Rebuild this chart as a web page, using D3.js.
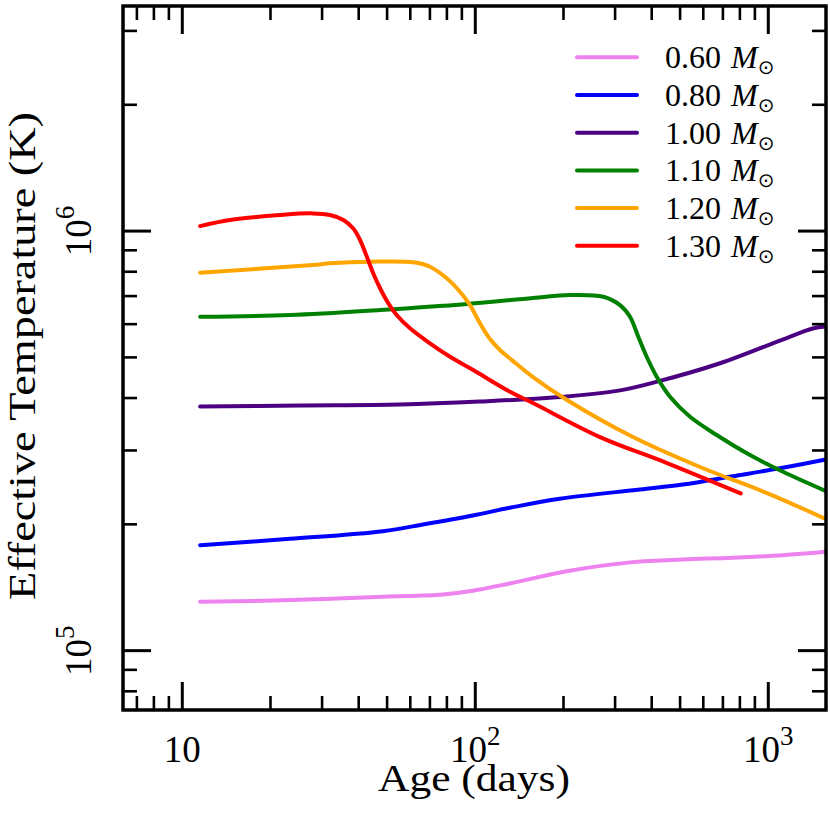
<!DOCTYPE html>
<html>
<head>
<meta charset="utf-8">
<script src="https://cdn.jsdelivr.net/npm/d3@7"></script>
<style>
  body { margin: 0; background: #fff; }
  svg text { font-family: "Liberation Serif", "DejaVu Serif", serif; fill: #000; }
</style>
</head>
<body>
<svg></svg>
<script>
const width = 830;
const height = 822;

// age in days, effective temperature in K
const m060 = [[11.55,130400],[23.4,131600],[48.6,134100],[77.8,135800],[98.5,138600],[131.7,144200],
              [206,154200],[346,162100],[513,164500],[759,166000],[1124,168400],[1576,171600]];
const m080 = [[11.55,177900],[23.4,184200],[48.6,192100],[66.5,199300],[98.5,209400],[131.7,218400],
              [195,229500],[366,241500],[513,248200],[759,259700],[1124,272000],[1576,284700]];
const m100 = [[11.55,380800],[25.3,383000],[55.5,385000],[104,391400],[206,402300],[313,416000],
              [422,437000],[687,482800],[1124,550000],[1423,584200],[1576,590600]];
const m110 = [[11.55,623200],[23.4,629100],[47.5,646600],[94.1,668300],[158,690700],[211.3,702200],
              [274.5,695600],[313,664500],[338.6,623200],[361.4,558500],[386.1,500300],[417.7,448400],
              [463.7,401800],[542.8,360000],[669.3,325600],[869.6,291700],[1127,266200],[1579,239400]];
const m120 = [[11.55,793500],[28,827800],[32.05,835400],[43.9,843000],[61.7,840100],[70.3,820000],
              [80.2,769600],[89,715000],[96.3,664500],[104.2,601000],[112.7,551300],[121.9,519200],
              [133.9,491300],[158,447700],[206.4,394600],[346.7,322000],[587,273200],[993.8,236800],
              [1579,205300]];
const m130 = [[11.55,1025000],[14.6,1060000],[21.6,1089000],[28,1099000],[32.05,1089000],[35.6,1060000],
              [38.5,1012000],[40.6,949500],[42.8,866800],[45,791000],[47.5,728700],[50.7,670800],
              [54.1,629100],[60.1,584800],[70.3,538600],[82.3,500300],[98.8,465100],[131.9,412900],
              [158,388100],[267.5,322000],[452.9,279200],[808,236400]];

const series = [m060, m080, m100, m110, m120, m130];
const masses = ["0.60", "0.80", "1.00", "1.10", "1.20", "1.30"];
const colors = ["violet", "blue", "indigo", "green", "orange", "red"];

const xMajor = [10, 100, 1000];
const xMinor = [7, 8, 9, 20, 30, 40, 50, 60, 70, 80, 90, 200, 300, 400, 500, 600, 700, 800, 900];
const yMajor = [1e5, 1e6];
const yMinor = [8e4, 9e4, 2e5, 3e5, 4e5, 5e5, 6e5, 7e5, 8e5, 9e5, 2e6, 3e6];

const plotLeft = 123, plotRight = 826, plotTop = 6, plotBottom = 710;

const svg = d3.select("svg")
                .attr("width", width)
                .attr("height", height);

const xScale = d3.scaleLog()
                .domain([6.3, 1580])
                .range([plotLeft, plotRight]);

const yScale = d3.scaleLog()
                .domain([7.2e4, 3.43e6])
                .range([plotBottom, plotTop]);

svg.append("clipPath")
    .attr("id", "plot-clip")
  .append("rect")
    .attr("x", plotLeft)
    .attr("y", plotTop)
    .attr("width", plotRight - plotLeft)
    .attr("height", plotBottom - plotTop);

const line = d3.line()
                .x(d => xScale(d[0]))
                .y(d => yScale(d[1]))
                .curve(d3.curveCatmullRom.alpha(0.5));

svg.append("g")
    .attr("clip-path", "url(#plot-clip)")
  .selectAll("path")
    .data(series)
    .enter()
    .append("path")
    .attr("d", line)
    .attr("fill", "none")
    .attr("stroke", (d, i) => colors[i])
    .attr("stroke-width", 4)
    .attr("stroke-linecap", "round");

// ticks on all four sides, pointing inward
function tickAxis(axis, transform, values, size, w) {
  const g = svg.append("g")
      .attr("transform", transform)
      .call(axis.tickValues(values).tickSize(-size).tickFormat(""));
  g.select(".domain").remove();
  g.selectAll(".tick line").attr("stroke", "#000").attr("stroke-width", w);
  return g;
}

const xBottom = tickAxis(d3.axisBottom(xScale), `translate(0,${plotBottom})`, xMajor, 28, 3);
tickAxis(d3.axisBottom(xScale), `translate(0,${plotBottom})`, xMinor, 14, 2.6);
tickAxis(d3.axisTop(xScale), `translate(0,${plotTop})`, xMajor, 28, 3);
tickAxis(d3.axisTop(xScale), `translate(0,${plotTop})`, xMinor, 14, 2.6);
const yLeft = tickAxis(d3.axisLeft(yScale), `translate(${plotLeft},0)`, yMajor, 28, 3);
tickAxis(d3.axisLeft(yScale), `translate(${plotLeft},0)`, yMinor, 14, 2.6);
tickAxis(d3.axisRight(yScale), `translate(${plotRight},0)`, yMajor, 28, 3);
tickAxis(d3.axisRight(yScale), `translate(${plotRight},0)`, yMinor, 14, 2.6);

function powerLabel(sel, d) {
  const e = Math.round(Math.log10(d));
  sel.text(null);
  sel.append("tspan").text("10");
  if (e !== 1) {
    sel.append("tspan")
        .attr("dy", -17)
        .style("font-size", "27px")
        .text(e);
  }
}

xBottom.selectAll(".tick text")
    .attr("y", 52)
    .attr("dy", 0)
    .attr("fill", "#000")
    .style("font-size", "37px")
    .style("text-anchor", "middle")
    .each(function (d) { powerLabel(d3.select(this), d); });

yLeft.selectAll(".tick text")
    .attr("x", 0)
    .attr("y", -32)
    .attr("dy", 0)
    .attr("fill", "#000")
    .attr("transform", "rotate(-90)")
    .style("font-size", "37px")
    .style("text-anchor", "middle")
    .each(function (d) { powerLabel(d3.select(this), d); });

svg.append("rect")
    .attr("x", plotLeft)
    .attr("y", plotTop)
    .attr("width", plotRight - plotLeft)
    .attr("height", plotBottom - plotTop)
    .attr("fill", "none")
    .attr("stroke", "#000")
    .attr("stroke-width", 3.5);

svg.append("text")
    .attr("x", 474)
    .attr("y", 791)
    .attr("textLength", 192)
    .attr("lengthAdjust", "spacingAndGlyphs")
    .style("font-size", "37px")
    .style("text-anchor", "middle")
    .text("Age (days)");

svg.append("text")
    .attr("transform", "translate(35,356) rotate(-90)")
    .attr("textLength", 488)
    .attr("lengthAdjust", "spacingAndGlyphs")
    .style("font-size", "37px")
    .style("text-anchor", "middle")
    .text("Effective Temperature (K)");

// legend
const legend = svg.append("g")
  .selectAll("g")
    .data(masses)
    .enter()
    .append("g")
    .attr("transform", (d, i) => `translate(0,${57.3 + i * 37.7})`);

legend.append("line")
    .attr("x1", 577)
    .attr("x2", 637)
    .attr("stroke", (d, i) => colors[i])
    .attr("stroke-width", 4)
    .attr("stroke-linecap", "round");

const legendText = legend.append("text")
    .attr("x", 665)
    .attr("y", 11)
    .style("font-size", "32px");

legendText.append("tspan").text(d => d);
legendText.append("tspan")
    .attr("x", 731)
    .style("font-style", "italic")
    .text("M");
legendText.append("tspan")
    .attr("dy", 6)
    .style("font-size", "20px")
    .style("font-family", "DejaVu Sans")
    .text("\u2299");
</script>
</body>
</html>
